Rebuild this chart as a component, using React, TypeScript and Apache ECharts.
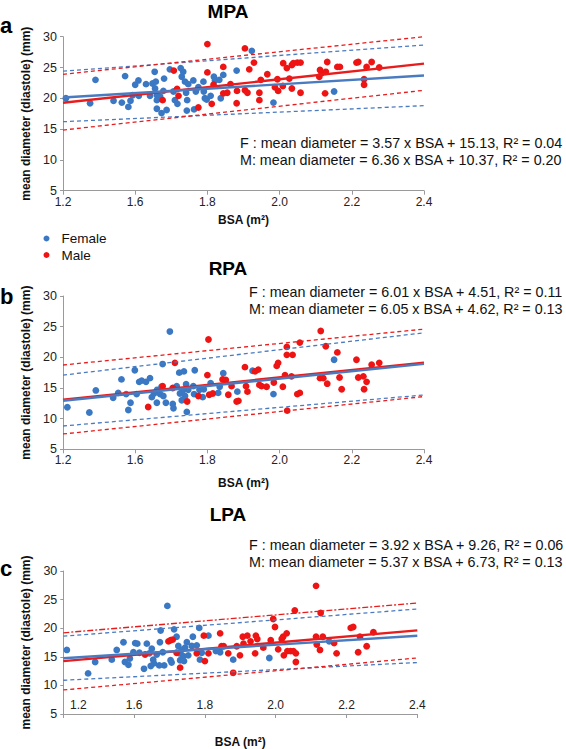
import React, { useEffect, useRef } from "react";
import * as echarts from "echarts";

// ---------- data ----------
const xTickLabels = ["1.2", "1.6", "1.8", "2.0", "2.2", "2.4"];
const panelTitles = ["MPA", "RPA", "LPA"];
const panelLetters = ["a", "b", "c"];
const eqF = [
  "F : mean diameter = 3.57 x BSA + 15.13, R\u00b2 = 0.04",
  "F : mean diameter = 6.01 x BSA + 4.51, R\u00b2 = 0.11",
  "F : mean diameter = 3.92 x BSA + 9.26, R\u00b2 = 0.06",
];
const eqM = [
  "M: mean diameter = 6.36 x BSA + 10.37, R\u00b2 = 0.20",
  "M: mean diameter = 6.05 x BSA + 4.62, R\u00b2 = 0.13",
  "M: mean diameter = 5.37 x BSA + 6.73, R\u00b2 = 0.13",
];

const mpaFemale = [[1.408,20.0],[1.475,19.2],[1.49,23.0],[1.54,19.6],[1.563,19.3],[1.572,23.6],[1.581,18.6],[1.587,19.6],[1.593,20.5],[1.60,22.2],[1.609,22.9],[1.61,20.4],[1.63,22.3],[1.641,20.4],[1.648,22.4],[1.654,24.3],[1.657,22.7],[1.655,21.6],[1.66,20.5],[1.66,19.7],[1.66,18.3],[1.669,20.3],[1.673,17.6],[1.678,21.2],[1.68,23.2],[1.687,18.1],[1.696,24.7],[1.706,21.1],[1.71,19.7],[1.717,19.1],[1.726,24.9],[1.729,23.5],[1.733,24.3],[1.738,22.7],[1.741,20.9],[1.744,19.7],[1.747,22.3],[1.743,18.0],[1.761,22.9],[1.763,18.2],[1.768,21.1],[1.775,21.8],[1.789,22.7],[1.79,21.1],[1.793,20.0],[1.798,19.8],[1.809,20.4],[1.818,23.5],[1.821,22.9],[1.833,23.0],[1.837,20.0],[1.844,23.8],[1.881,24.5],[1.923,27.7],[1.983,19.3],[2.151,21.1]];
const mpaMale = [[1.676,19.7],[1.707,24.5],[1.716,21.5],[1.72,20.4],[1.775,18.5],[1.80,28.8],[1.80,24.2],[1.812,19.1],[1.817,22.2],[1.844,25.1],[1.844,20.8],[1.855,20.9],[1.864,22.3],[1.881,19.2],[1.882,21.2],[1.904,28.1],[1.904,21.3],[1.911,20.9],[1.916,24.7],[1.929,25.8],[1.948,23.0],[1.966,23.9],[1.944,20.9],[1.944,19.7],[1.987,21.8],[1.996,21.2],[1.994,23.1],[2.01,25.7],[2.02,24.9],[2.027,23.2],[2.009,22.0],[2.034,25.4],[2.038,25.7],[2.049,25.8],[2.058,25.8],[2.034,21.6],[2.058,20.9],[2.112,24.6],[2.117,24.1],[2.11,23.5],[2.128,24.3],[2.132,25.9],[2.126,20.8],[2.16,25.1],[2.167,25.1],[2.213,25.8],[2.218,25.9],[2.241,25.1],[2.234,23.1],[2.234,22.2],[2.255,25.9],[2.276,25.0]];

const rpaFemale = [[1.412,11.85],[1.473,11.0],[1.491,14.6],[1.539,13.4],[1.553,14.2],[1.562,16.4],[1.575,14.0],[1.581,11.4],[1.587,12.6],[1.599,17.9],[1.604,14.0],[1.611,16.0],[1.618,16.2],[1.63,16.0],[1.641,16.6],[1.646,13.5],[1.652,14.1],[1.66,12.6],[1.661,14.7],[1.669,14.0],[1.673,15.2],[1.676,18.9],[1.678,13.7],[1.685,12.6],[1.696,24.2],[1.704,12.4],[1.706,11.7],[1.715,15.3],[1.722,17.5],[1.724,14.1],[1.729,13.0],[1.732,14.6],[1.735,17.7],[1.738,13.7],[1.741,15.6],[1.743,11.1],[1.747,14.7],[1.761,15.3],[1.763,14.0],[1.765,17.9],[1.778,14.7],[1.787,13.5],[1.79,14.8],[1.809,15.8],[1.83,14.2],[1.834,15.2],[1.844,17.4],[1.883,14.4],[1.925,17.8],[1.983,14.0],[2.151,19.6]];
const rpaMale = [[1.636,11.9],[1.676,15.3],[1.71,19.1],[1.704,15.0],[1.744,12.8],[1.775,13.7],[1.803,22.9],[1.80,17.1],[1.805,13.9],[1.815,14.1],[1.842,16.4],[1.851,16.3],[1.858,13.9],[1.867,15.3],[1.881,12.8],[1.886,12.9],[1.904,18.4],[1.907,15.3],[1.911,14.4],[1.932,17.7],[1.941,18.0],[1.944,15.5],[1.95,15.3],[1.964,15.2],[1.984,15.9],[1.992,18.6],[1.996,19.1],[2.009,15.2],[2.015,17.1],[2.02,21.7],[2.02,20.4],[2.036,20.4],[2.021,11.3],[2.033,16.9],[2.049,14.0],[2.056,14.2],[2.056,22.4],[2.114,24.3],[2.128,21.8],[2.112,16.6],[2.121,16.6],[2.132,15.7],[2.16,20.8],[2.166,16.7],[2.172,14.8],[2.213,19.6],[2.218,16.7],[2.232,16.9],[2.241,16.0],[2.234,14.8],[2.255,18.8],[2.276,19.1]];

const lpaFemale = [[1.41,16.2],[1.47,12.1],[1.49,14.1],[1.537,14.5],[1.551,16.2],[1.57,17.55],[1.574,14.1],[1.584,13.6],[1.588,14.7],[1.598,15.8],[1.603,17.4],[1.609,17.3],[1.615,15.7],[1.628,12.9],[1.636,17.3],[1.643,15.6],[1.647,13.4],[1.65,16.4],[1.654,14.5],[1.656,13.85],[1.664,15.4],[1.671,13.5],[1.673,17.55],[1.675,19.6],[1.681,15.8],[1.685,13.5],[1.694,23.9],[1.703,14.4],[1.706,14.0],[1.713,19.8],[1.72,18.5],[1.725,16.9],[1.728,15.6],[1.73,14.4],[1.734,16.2],[1.739,15.1],[1.741,14.25],[1.744,16.6],[1.749,17.55],[1.753,15.25],[1.763,16.9],[1.766,18.5],[1.777,17.0],[1.784,20.05],[1.786,14.5],[1.791,15.7],[1.81,18.7],[1.831,16.0],[1.843,15.8],[1.88,14.5],[1.982,14.8],[2.151,17.7]];
const lpaMale = [[1.631,15.4],[1.697,17.7],[1.703,17.9],[1.709,18.0],[1.72,15.7],[1.73,13.1],[1.777,15.6],[1.797,18.7],[1.80,14.25],[1.81,15.6],[1.843,19.1],[1.847,16.85],[1.853,16.85],[1.866,15.6],[1.88,12.2],[1.89,16.85],[1.899,15.25],[1.907,18.5],[1.909,17.3],[1.92,18.7],[1.929,17.7],[1.942,15.6],[1.944,18.7],[1.948,18.1],[1.965,16.6],[1.986,17.9],[1.993,21.6],[1.998,20.2],[2.007,16.3],[2.017,18.1],[2.021,18.5],[2.023,15.25],[2.031,19.1],[2.033,16.0],[2.042,16.0],[2.05,16.0],[2.057,15.6],[2.054,23.1],[2.057,14.1],[2.114,27.4],[2.114,18.5],[2.116,17.15],[2.125,16.2],[2.127,22.65],[2.133,18.5],[2.165,17.4],[2.172,15.6],[2.212,20.05],[2.219,20.2],[2.233,15.8],[2.238,18.5],[2.257,16.85],[2.276,19.3]];

// regression lines and prediction bands (endpoints)
const mpaFitF = [[1.4,20.13],[2.4,23.70]];
const mpaFitM = [[1.4,19.27],[2.4,25.63]];
const mpaUpF = [[1.4,24.4],[2.4,28.65]];
const mpaLoF = [[1.4,16.2],[2.4,18.8]];
const mpaUpM = [[1.4,23.9],[2.4,30.0]];
const mpaLoM = [[1.4,14.85],[2.4,21.3]];

const rpaFitF = [[1.4,12.92],[2.4,18.93]];
const rpaFitM = [[1.4,13.09],[2.4,19.14]];
const rpaUpF = [[1.4,17.1],[2.4,24.0]];
const rpaLoF = [[1.4,8.8],[2.4,13.86]];
const rpaUpM = [[1.4,18.75],[2.4,24.6]];
const rpaLoM = [[1.4,7.5],[2.4,13.6]];

const lpaFitF = [[1.4,14.75],[2.4,18.67]];
const lpaFitM = [[1.4,14.25],[2.4,19.62]];
const lpaUpF = [[1.4,18.6],[2.4,23.35]];
const lpaLoF = [[1.4,10.9],[2.4,14.0]];
const lpaUpM = [[1.4,19.2],[2.4,24.4]];
const lpaLoM = [[1.4,9.2],[2.4,14.8]];

const panels = [
  { female: mpaFemale, male: mpaMale, fitF: mpaFitF, fitM: mpaFitM, upF: mpaUpF, loF: mpaLoF, upM: mpaUpM, loM: mpaLoM },
  { female: rpaFemale, male: rpaMale, fitF: rpaFitF, fitM: rpaFitM, upF: rpaUpF, loF: rpaLoF, upM: rpaUpM, loM: rpaLoM },
  { female: lpaFemale, male: lpaMale, fitF: lpaFitF, fitM: lpaFitM, upF: lpaUpF, loF: lpaLoF, upM: lpaUpM, loM: lpaLoM },
];

// ---------- styling / layout ----------
const FONT = "'Liberation Sans', Arial, Helvetica, sans-serif";
const BLUE = "#3b78c3";
const RED = "#ee1414";
const BLUE_LINE = "#4a7bc0";
const RED_LINE = "#e81c1c";
const AXIS = "#9a9a9a";

const grids = [
  { left: 63, top: 36.7, width: 361, height: 154 },
  { left: 63, top: 296, width: 361, height: 153.3 },
  { left: 63.3, top: 571, width: 354, height: 144 },
];
const titleY = [11, 268, 514];
const letterY = [25, 296, 568];
const eqX = [240, 249, 249];
const eqY = [142.5, 292, 545];
const xNameGap = [23, 28, 22];

function xLabel(v: number) {
  const idx = Math.round((v - 1.4) / 0.2);
  return xTickLabels[idx] ?? "";
}

export default function App() {
  const ref = useRef<HTMLDivElement>(null);
  useEffect(() => {
    if (!ref.current) return;
    const chart = echarts.init(ref.current, undefined, { renderer: "svg" });

    const xAxis: any[] = [];
    const yAxis: any[] = [];
    const series: any[] = [];
    const graphic: any[] = [];

    panels.forEach((p, i) => {
      const inside = i === 2;
      xAxis.push({
        gridIndex: i,
        type: "value",
        min: 1.4,
        max: 2.4,
        interval: 0.2,
        name: "BSA (m\u00b2)",
        nameLocation: "middle",
        nameGap: xNameGap[i],
        nameTextStyle: { fontFamily: FONT, fontWeight: "bold", fontSize: 12, color: "#111" },
        axisLine: { lineStyle: { color: AXIS, width: 1 } },
        axisTick: { show: true, inside: false, length: 4, lineStyle: { color: AXIS } },
        splitLine: { show: false },
        axisLabel: inside
          ? {
              inside: true,
              margin: 3,
              fontFamily: FONT,
              fontSize: 12,
              color: "#222",
              formatter: (v: number) => (Math.abs(v - 1.4) < 1e-6 ? "{f|" + xLabel(v) + "}" : xLabel(v)),
              rich: { f: { padding: [0, 0, 0, 30], fontFamily: FONT, fontSize: 12, color: "#222" } },
            }
          : { margin: 5, fontFamily: FONT, fontSize: 12, color: "#222", formatter: xLabel },
      });
      yAxis.push({
        gridIndex: i,
        type: "value",
        min: 5,
        max: 30,
        interval: 5,
        name: "mean diameter (diastole) (mm)",
        nameLocation: "middle",
        nameGap: 26,
        nameTextStyle: { fontFamily: FONT, fontWeight: "bold", fontSize: 12, color: "#111" },
        axisLine: { show: true, lineStyle: { color: AXIS, width: 1 } },
        axisTick: { show: true, inside: false, length: 3, lineStyle: { color: AXIS } },
        splitLine: { show: false },
        axisLabel: { margin: 6, fontFamily: FONT, fontSize: 12.5, color: "#222" },
      });

      const dashed = (name: string, data: number[][], color: string, type: any) => ({
        name,
        type: "line",
        xAxisIndex: i,
        yAxisIndex: i,
        data,
        symbol: "none",
        silent: true,
        lineStyle: { color, width: 1.3, type },
        z: 3,
      });

      series.push(
        { name: "Female", type: "scatter", xAxisIndex: i, yAxisIndex: i, data: p.female, symbolSize: 6.8, itemStyle: { color: BLUE, opacity: 1 }, z: 2 },
        { name: "Male", type: "scatter", xAxisIndex: i, yAxisIndex: i, data: p.male, symbolSize: 6.8, itemStyle: { color: RED, opacity: 1 }, z: 2 },
        dashed("F upper", p.upF, BLUE_LINE, [4, 3]),
        dashed("F lower", p.loF, BLUE_LINE, [4, 3]),
        dashed("M upper", p.upM, RED_LINE, i === 2 ? [6, 2, 2, 2] : [4, 3]),
        dashed("M lower", p.loM, RED_LINE, [4, 3]),
        { name: "M fit", type: "line", xAxisIndex: i, yAxisIndex: i, data: p.fitM, symbol: "none", silent: true, lineStyle: { color: RED_LINE, width: 2.4 }, z: 4 },
        { name: "F fit", type: "line", xAxisIndex: i, yAxisIndex: i, data: p.fitF, symbol: "none", silent: true, lineStyle: { color: BLUE_LINE, width: 2.4 }, z: 5 }
      );

      graphic.push(
        {
          type: "text",
          x: 228,
          y: titleY[i],
          style: { text: panelTitles[i], fontFamily: FONT, fontSize: 19, fontWeight: "bold", fill: "#000", align: "center", verticalAlign: "middle", textAlign: "center", textVerticalAlign: "middle" },
        },
        {
          type: "text",
          x: 0,
          y: letterY[i],
          style: { text: panelLetters[i], fontFamily: FONT, fontSize: 22, fontWeight: "bold", fill: "#000", align: "left", verticalAlign: "middle", textAlign: "left", textVerticalAlign: "middle" },
        },
        {
          type: "text",
          x: eqX[i],
          y: eqY[i],
          style: { text: eqF[i], fontFamily: FONT, fontSize: 14.3, fill: "#111", align: "left", verticalAlign: "middle", textAlign: "left", textVerticalAlign: "middle" },
        },
        {
          type: "text",
          x: eqX[i],
          y: eqY[i] + 17,
          style: { text: eqM[i], fontFamily: FONT, fontSize: 14.3, fill: "#111", align: "left", verticalAlign: "middle", textAlign: "left", textVerticalAlign: "middle" },
        }
      );
    });

    chart.setOption({
      animation: false,
      backgroundColor: "#fff",
      grid: grids.map((g) => ({ ...g, containLabel: false })),
      xAxis,
      yAxis,
      legend: {
        data: ["Female", "Male"],
        orient: "vertical",
        left: 38.5,
        top: 226.5,
        icon: "circle",
        itemWidth: 6,
        itemHeight: 6,
        itemGap: 2.5,
        textStyle: { fontFamily: FONT, fontSize: 13.5, color: "#111", lineHeight: 14, padding: [0, 0, 0, 7] },
        selectedMode: false,
      },
      series,
      graphic,
    });
    return () => chart.dispose();
  }, []);
  return <div ref={ref} style={{ position: "absolute", left: 0, top: 0, width: 566, height: 749 }} />;
}
